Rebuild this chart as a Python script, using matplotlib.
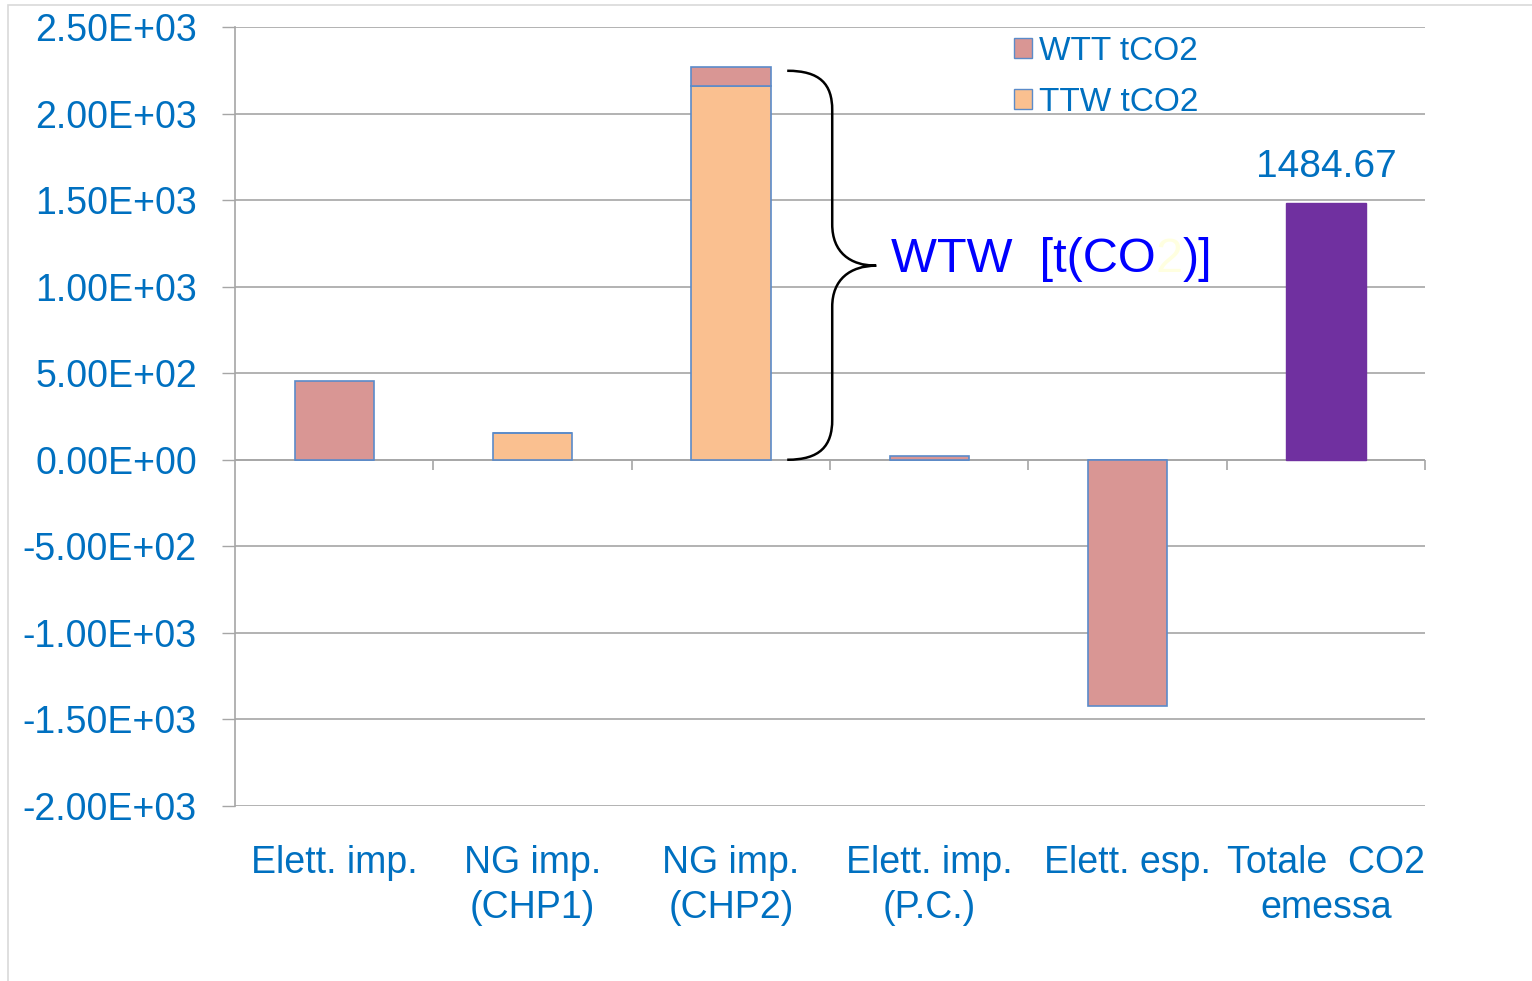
import matplotlib
matplotlib.use("Agg")
import matplotlib.pyplot as plt
from matplotlib.path import Path
from matplotlib.patches import PathPatch, Patch, Rectangle
from matplotlib.ticker import FuncFormatter

plt.rcParams['font.family'] = ['Liberation Sans', 'DejaVu Sans']

categories = ["Elett. imp.", "NG imp.\n(CHP1)", "NG imp.\n(CHP2)",
              "Elett. imp.\n(P.C.)", "Elett. esp.", "Totale  CO2\nemessa"]
ttw = [0, 156, 2161, 0, 0]
wtt = [456, 0, 109, 20, -1421]
totale = 1484.67

blue = "#0070C0"
c_wtt = "#D99694"
c_ttw = "#FAC090"
c_tot = "#7030A0"
edge = "#5B8BC9"

fig = plt.figure(figsize=(15.32, 9.81), dpi=100)
ax = fig.add_axes([0.1534, 0.1784, 0.9302 - 0.1534, 0.9725 - 0.1784])

x = list(range(5))
w = 0.4
ax.bar(x, ttw, w, color=c_ttw, edgecolor=edge, linewidth=1.2, zorder=3, label="TTW tCO2")
ax.bar(x, wtt, w, bottom=ttw, color=c_wtt, edgecolor=edge, linewidth=1.2, zorder=3, label="WTT tCO2")
ax.bar([5], [totale], w, color=c_tot, edgecolor=c_tot, linewidth=1, zorder=3)
ax.text(5, totale + 105, f"{totale:.2f}", ha="center", va="bottom", color=blue, fontsize=28)

ax.set_xlim(-0.5, 5.5)
ax.set_ylim(-2000, 2500)
ax.set_yticks(range(-2000, 2501, 500))
ax.yaxis.set_major_formatter(FuncFormatter(lambda v, p: f"{v:.2E}"))
ax.set_xticks(range(6))
ax.set_xticklabels(categories, color=blue, fontsize=27, linespacing=1.32)
ax.tick_params(axis="x", length=0, pad=28)
ax.tick_params(axis="y", length=9.5, width=1, color="#A6A6A6", labelcolor=blue,
               labelsize=27, pad=18)
ax.grid(axis="y", color="#A6A6A6", linewidth=1.2, zorder=0)
for s in ["top", "right", "bottom"]:
    ax.spines[s].set_visible(False)
ax.spines["left"].set_color("#A6A6A6")
ax.spines["left"].set_linewidth(1.2)
ax.axhline(0, color="#A6A6A6", linewidth=1.2, zorder=2)
ax.vlines([0.5, 1.5, 2.5, 3.5, 4.5, 5.5], -60, 0, color="#A6A6A6", linewidth=1.2,
          clip_on=False)

# brace for WTW
verts = [(2.284, 2247), (2.45, 2247), (2.511, 2170), (2.511, 2020),
         (2.511, 1360),
         (2.511, 1200), (2.60, 1121), (2.733, 1121),
         (2.60, 1121), (2.511, 1040), (2.511, 884),
         (2.511, 231),
         (2.511, 80), (2.45, 0), (2.284, 0)]
codes = [Path.MOVETO, Path.CURVE4, Path.CURVE4, Path.CURVE4,
         Path.LINETO,
         Path.CURVE4, Path.CURVE4, Path.CURVE4,
         Path.CURVE4, Path.CURVE4, Path.CURVE4,
         Path.LINETO,
         Path.CURVE4, Path.CURVE4, Path.CURVE4]
ax.add_patch(PathPatch(Path(verts, codes), facecolor="none", edgecolor="black",
                       linewidth=1.8, zorder=4))

# WTW label, the "2" is pale
t1 = fig.text(891 / 1532, 1 - 260 / 981, "WTW  [t(CO", color="#0000FF", fontsize=35, va="center")
fig.canvas.draw()
bb = t1.get_window_extent()
t2 = fig.text(bb.x1 / 1532, 1 - 260 / 981, "2", color="#FFFFE0", fontsize=35, va="center")
fig.canvas.draw()
bb2 = t2.get_window_extent()
fig.text(bb2.x1 / 1532, 1 - 260 / 981, ")]", color="#0000FF", fontsize=35, va="center")

handles = [Patch(facecolor=c_wtt, edgecolor=edge), Patch(facecolor=c_ttw, edgecolor=edge)]
leg = fig.legend(handles, ["WTT tCO2", "TTW tCO2"], loc="upper left",
                 bbox_to_anchor=(984 / 1532, 1 - 6 / 981), frameon=False,
                 fontsize=24, handlelength=0.55, handleheight=0.55, handletextpad=0.2,
                 labelspacing=0.6)
for t in leg.get_texts():
    t.set_color(blue)

# slide frame
fig.add_artist(Rectangle((8 / 1532, -0.01), 1.1, 1 - 5 / 981 + 0.01, transform=fig.transFigure,
                         facecolor="none", edgecolor="#D9D9D9", linewidth=1.2))

fig.savefig("out.png", dpi=100)
